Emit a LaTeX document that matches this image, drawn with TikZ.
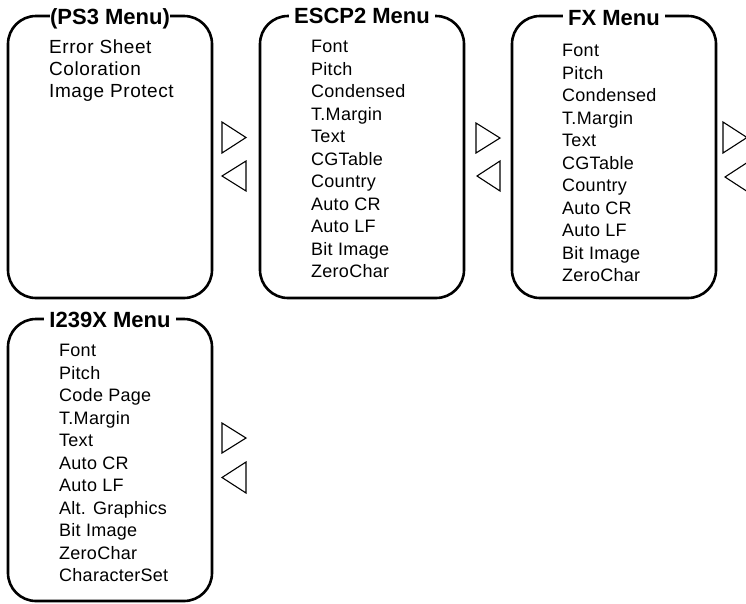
\documentclass[tikz,border=0pt]{standalone}
\usepackage{fontspec}
\setmainfont{Liberation Sans}
\newfontfamily\itemfont[LetterSpace=1.5]{Liberation Sans}
\newfontfamily\wideitemfont[LetterSpace=3]{Liberation Sans}
\usetikzlibrary{positioning}

\begin{document}
\begin{tikzpicture}[
    x=1pt, y=-1pt,
    node distance=48pt,
    menubox/.style={rectangle, draw=black, line width=2.6pt, rounded corners=28pt, minimum width=204pt, minimum height=282pt, outer sep=0pt, inner sep=0pt},
    menutitle/.style={fill=white, inner xsep=5pt, inner ysep=1pt, font=\bfseries\fontsize{22}{26}\selectfont, anchor=base},
    menuitems/.style={align=left, inner sep=0pt, anchor=north west, font=\itemfont\fontsize{18}{22.5}\selectfont},
    navtri/.style={draw=black, line width=1.1pt, line join=miter}
]
\useasboundingbox (0,0) rectangle (746,603);
\clip (0,0) rectangle (746,603);

% Menu boxes
\node[menubox, anchor=north west] (ps3) at (8,16) {};
\node[menubox, right=of ps3] (escp) {};
\node[menubox, right=of escp] (fx) {};
\node[menubox, below=21pt of ps3] (ibm) {};

% Titles sitting on the top edge
\node[menutitle, inner xsep=0pt] (ps3t) at ([yshift=-8pt]ps3.north) {(PS3 Menu)};
\node[menutitle] (escpt) at ([yshift=-7pt]escp.north) {ESCP2 Menu};
\node[menutitle] (fxt) at ([yshift=-9pt]fx.north) {FX Menu};
\node[menutitle] (ibmt) at ([yshift=-8pt]ibm.north) {I239X Menu};

% Menu entries
\node[menuitems, font=\wideitemfont\fontsize{19}{22}\selectfont] (ps3i) at ([xshift=41pt, yshift=-24pt]ps3.north west) {Error Sheet\\Coloration\\Image Protect};
\node[menuitems] (escpi) at ([xshift=51pt, yshift=-24pt]escp.north west) {Font\\Pitch\\Condensed\\T.Margin\\Text\\CGTable\\Country\\Auto CR\\Auto LF\\Bit Image\\ZeroChar};
\node[menuitems] (fxi) at ([xshift=50pt, yshift=-28pt]fx.north west) {Font\\Pitch\\Condensed\\T.Margin\\Text\\CGTable\\Country\\Auto CR\\Auto LF\\Bit Image\\ZeroChar};
\node[menuitems] (ibmi) at ([xshift=51pt, yshift=-25pt]ibm.north west) {Font\\Pitch\\Code Page\\T.Margin\\Text\\Auto CR\\Auto LF\\Alt. Graphics\\Bit Image\\ZeroChar\\CharacterSet};

% Next / previous markers
\draw[navtri] (222,122) -- (246,137.5) -- (222,153) -- cycle;
\draw[navtri] (246,161) -- (222,176) -- (246,191) -- cycle;
\draw[navtri] (476,123) -- (500,138) -- (476,153) -- cycle;
\draw[navtri] (500,161) -- (477,176) -- (500,191) -- cycle;
\draw[navtri] (723,122) -- (747,137.5) -- (723,153) -- cycle;
\draw[navtri] (748,162) -- (725,177) -- (748,192) -- cycle;
\draw[navtri] (222,423) -- (246,438) -- (222,453) -- cycle;
\draw[navtri] (246,462) -- (222,477.5) -- (246,493) -- cycle;

\end{tikzpicture}
\end{document}
